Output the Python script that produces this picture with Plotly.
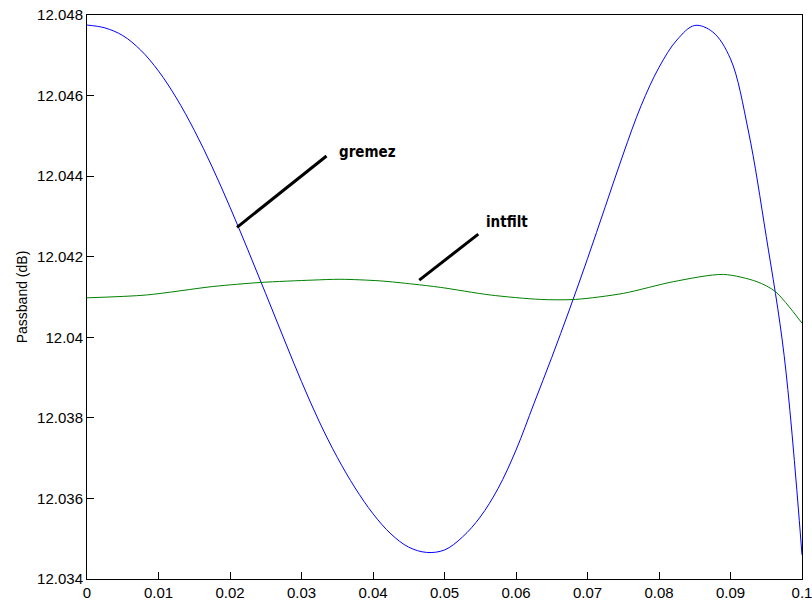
import plotly.graph_objects as go

# gremez passband response
gremez_x = [0, 0.0025, 0.005, 0.0075, 0.01, 0.0125, 0.015, 0.0175, 0.02, 0.0225,
            0.025, 0.0275, 0.03, 0.0325, 0.035, 0.0375, 0.04, 0.0425, 0.045, 0.0475,
            0.05, 0.0525, 0.055, 0.0575, 0.06, 0.0625, 0.065, 0.0675, 0.07, 0.0725,
            0.075, 0.0775, 0.08, 0.0825, 0.085, 0.0875, 0.09, 0.0925, 0.095,
            0.0975, 0.1]
gremez_y = [12.04775, 12.04768, 12.04749, 12.04713, 12.04661, 12.04594, 12.04514,
            12.04423, 12.04323, 12.04217, 12.04108, 12.03998, 12.03890, 12.03790,
            12.03702, 12.03626, 12.03562, 12.03512, 12.03479, 12.03466, 12.03472,
            12.03504, 12.03554, 12.03625, 12.03720, 12.03835, 12.03950, 12.04070,
            12.04195, 12.04325, 12.04455, 12.04575, 12.04670, 12.04738, 12.04774,
            12.04758, 12.04691, 12.04512, 12.04250, 12.03955, 12.03460]

# intfilt passband response
intfilt_x = [0, 0.0083, 0.0176, 0.0242, 0.0316, 0.0354, 0.041, 0.0456, 0.0494, 0.0564,
             0.0634, 0.0683, 0.075, 0.082, 0.089, 0.0937, 0.0963, 0.1]
intfilt_y = [12.04098, 12.04105, 12.04126, 12.04136, 12.04142, 12.04144, 12.0414,
             12.04132, 12.04124, 12.04105, 12.04094, 12.04094, 12.04109, 12.04138,
             12.04156, 12.04138, 12.04113, 12.04035]

x_ticks = [0, 0.01, 0.02, 0.03, 0.04, 0.05, 0.06, 0.07, 0.08, 0.09, 0.1]
x_ticktext = ["0", "0.01", "0.02", "0.03", "0.04", "0.05", "0.06", "0.07", "0.08", "0.09", "0.1"]
y_ticks = [12.034, 12.036, 12.038, 12.040, 12.042, 12.044, 12.046, 12.048]
y_ticktext = ["12.034", "12.036", "12.038", "12.04", "12.042", "12.044", "12.046", "12.048"]

# annotation pointer lines (data coords) and labels
gremez_ptr = (0.02098, 12.04273, 0.0335, 12.0445)
gremez_lbl = (0.03494, 12.0446, "gremez")
intfilt_ptr = (0.04647, 12.04142, 0.05473, 12.04256)
intfilt_lbl = (0.05553, 12.04285, "intfilt")

fig = go.Figure()
fig.add_trace(go.Scatter(x=gremez_x, y=gremez_y, mode="lines",
                         line=dict(color="#0000FF", width=1, shape="spline", smoothing=1.0)))
fig.add_trace(go.Scatter(x=intfilt_x, y=intfilt_y, mode="lines",
                         line=dict(color="#008000", width=1, shape="spline", smoothing=0.8)))

for p in (gremez_ptr, intfilt_ptr):
    fig.add_shape(type="line", x0=p[0], y0=p[1], x1=p[2], y1=p[3], xref="x", yref="y",
                  line=dict(color="black", width=3))
for l in (gremez_lbl, intfilt_lbl):
    fig.add_annotation(x=l[0], y=l[1], text="<b>" + l[2] + "</b>", showarrow=False, xanchor="left",
                       yanchor="middle", xref="x", yref="y",
                       font=dict(family="DejaVu Sans Condensed, sans-serif",
                                 size=15, color="black"))

axis_common = dict(showline=True, linecolor="black", linewidth=1, mirror=True,
                   ticks="inside", ticklen=7, tickwidth=1, tickcolor="black",
                   showgrid=False, zeroline=False, automargin=False,
                   ticklabeloverflow="allow",
                   tickfont=dict(family="Liberation Sans, Arial, sans-serif", size=15, color="black"))

fig.update_xaxes(range=[0, 0.1], tickvals=x_ticks, ticktext=x_ticktext, **axis_common)
fig.update_yaxes(range=[12.034, 12.048], tickvals=y_ticks, ticktext=y_ticktext,
                 title=dict(text="Passband (dB)", standoff=6,
                            font=dict(family="Liberation Sans, Arial, sans-serif", size=14, color="black")),
                 **axis_common)

fig.update_layout(width=812, height=601, margin=dict(l=87, r=10, t=15, b=22),
                  plot_bgcolor="white", paper_bgcolor="white", showlegend=False)

fig.write_html("out.html")
